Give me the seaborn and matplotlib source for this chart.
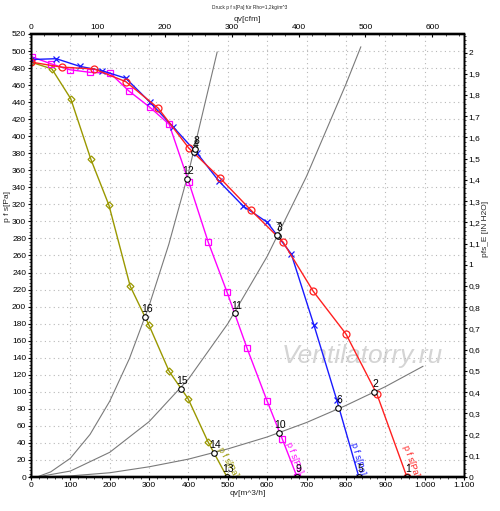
import matplotlib
matplotlib.use("Agg")
import matplotlib.pyplot as plt
import seaborn as sns
from matplotlib.ticker import MultipleLocator, FuncFormatter

# Kennlinien (qv in m^3/h, p f s in Pa)
red_q = [0, 79, 160, 241, 323, 401, 480, 559, 640, 717, 800, 879, 955]
red_p = [487, 481, 479, 464, 433, 386, 351, 313, 276, 218, 168, 97, 0]

blue_q = [0, 64, 124, 180, 241, 302, 361, 422, 478, 539, 600, 661, 719, 777, 833]
blue_p = [490, 491, 482, 477, 468, 440, 411, 380, 347, 318, 299, 262, 178, 90, 0]

mag_q = [3, 51, 99, 150, 201, 249, 302, 351, 401, 450, 498, 549, 600, 638, 676]
mag_p = [493, 485, 478, 475, 474, 453, 434, 414, 346, 276, 217, 151, 89, 45, 0]

olive_q = [0, 53, 101, 152, 198, 252, 300, 351, 399, 450, 498]
olive_p = [487, 479, 444, 373, 319, 224, 178, 124, 92, 41, 0]

# Anlagenkennlinien
sysA_q = [15, 100, 200, 300, 400, 500, 600, 700, 800, 900, 996]
sysA_p = [0, 1.3, 5, 12, 21, 33, 47, 64, 84, 106, 130]
sysB_q = [15, 100, 200, 300, 400, 500, 600, 700, 800, 838]
sysB_p = [0, 7, 29, 65, 115, 180, 259, 353, 461, 505]
sysC_q = [15, 50, 100, 150, 200, 250, 300, 350, 400, 473]
sysC_p = [0, 6, 22, 50, 89, 139, 201, 273, 357, 499]

# Betriebspunkte
pt_num = [1, 2, 3, 4, 5, 6, 7, 8, 9, 10, 11, 12, 13, 14, 15, 16]
pt_q = [955, 871, 627, 414, 833, 780, 625, 416, 676, 630, 518, 396, 498, 465, 381, 290]
pt_p = [0, 100, 283, 381, 0, 81, 284, 385, 0, 52, 192, 350, 0, 28, 103, 188]

sns.set_theme(style="ticks")
plt.rcParams['font.family'] = ['Liberation Sans', 'DejaVu Sans']

fs = 6
fig = plt.figure(figsize=(5, 5.11), dpi=100)
ax = fig.add_axes([0.062, 0.0665, 0.866, 0.867])

grid_kw = dict(color='#b8b8b8', linestyle=(0, (1, 3)), linewidth=0.8)
ax.grid(True, **grid_kw)

for q, p in [(sysA_q, sysA_p), (sysB_q, sysB_p), (sysC_q, sysC_p)]:
    sns.lineplot(x=q, y=p, ax=ax, color='#7a7a7a', linewidth=0.8, estimator=None, sort=False)

curves = [
    (olive_q, olive_p, '#9a9800', 'D', 3.5),
    (mag_q, mag_p, '#ff00ff', 's', 4.5),
    (blue_q, blue_p, '#1a1aff', 'x', 5),
    (red_q, red_p, '#ff2020', 'o', 5),
]
for q, p, c, m, ms in curves:
    sns.lineplot(x=q, y=p, ax=ax, color=c, linewidth=1.0, estimator=None, sort=False,
                 marker=m, markersize=ms, markerfacecolor='none', markeredgecolor=c,
                 markeredgewidth=0.9)

# Betriebspunkte
ax.plot(pt_q, pt_p, linestyle='none', marker='o', markersize=4,
        markerfacecolor='white', markeredgecolor='black', markeredgewidth=0.8, zorder=5)
for n, q, p in zip(pt_num, pt_q, pt_p):
    ax.annotate(str(n), (q, p), textcoords='offset points', xytext=(1, 2),
                ha='center', va='bottom', fontsize=7.5, color='black', zorder=6)

# Beschriftung der Kennlinien
lab = [(500, 17, -61, '#9a9800'), (668, 22, -69, '#ff00ff'),
       (831, 22, -74, '#1a1aff'), (966, 19, -70, '#ff2020')]
for q, p, rot, c in lab:
    ax.text(q, p, 'p f s[Pa]', rotation=rot, color=c, fontsize=6.5,
            ha='center', va='center')

ax.text(841, 142, 'Ventilatorry.ru', fontsize=19, style='italic', color='#d4d4d4',
        ha='center', va='center', zorder=0)

ax.set_xlim(0, 1100)
ax.set_ylim(0, 520)
ax.xaxis.set_major_locator(MultipleLocator(100))
ax.xaxis.set_minor_locator(MultipleLocator(20))
ax.yaxis.set_major_locator(MultipleLocator(20))
ax.yaxis.set_minor_locator(MultipleLocator(4))
ax.xaxis.set_major_formatter(FuncFormatter(lambda v, _: f"{int(v):,}".replace(',', '.')))
ax.tick_params(which='major', length=2.5, width=0.8, labelsize=fs, pad=1, colors='black')
ax.tick_params(which='minor', length=1.5, width=0.6)
ax.set_xlabel('qv[m^3/h]', fontsize=fs, labelpad=1)
ax.set_ylabel('p f s[Pa]', fontsize=fs)
ax.yaxis.set_label_coords(-0.046, 0.61)

# rechte Achse in IN H2O
ax2 = ax.twinx()
ax2.set_ylim(0, 520 / 249.09)
ax2.yaxis.set_major_locator(MultipleLocator(0.1))
ax2.yaxis.set_minor_locator(MultipleLocator(0.02))
ax2.yaxis.set_major_formatter(FuncFormatter(lambda v, _: f"{v:.1f}".rstrip('0').rstrip('.').replace('.', ',')))
ax2.tick_params(which='major', length=2.5, width=0.8, labelsize=fs, pad=0.5, colors='black')
ax2.tick_params(which='minor', length=1.5, width=0.6)
ax2.set_ylabel('pfs_E [IN H2O]', fontsize=fs)
ax2.yaxis.set_label_coords(1.042, 0.56)

# obere Achse in cfm
ax3 = ax.twiny()
ax3.set_xlim(0, 1100 / 1.699)
ax3.xaxis.set_major_locator(MultipleLocator(100))
ax3.xaxis.set_minor_locator(MultipleLocator(20))
ax3.tick_params(which='major', direction='in', length=2.5, width=0.8, labelsize=fs, pad=2, colors='black')
ax3.tick_params(which='minor', direction='in', length=1.5, width=0.6)
ax3.set_xlabel('qv[cfm]', fontsize=fs, labelpad=2)

for a in (ax, ax2, ax3):
    for s in a.spines.values():
        s.set_color('black')
        s.set_linewidth(1.0)
    a.spines['top'].set_linewidth(1.6)
    a.spines['bottom'].set_linewidth(1.6)

fig.text(0.5, 0.986, 'Druck p f s[Pa] für Rho=1,2kg/m^3', fontsize=3.5, ha='center', va='center')

plt.savefig('out.png', dpi=100)
